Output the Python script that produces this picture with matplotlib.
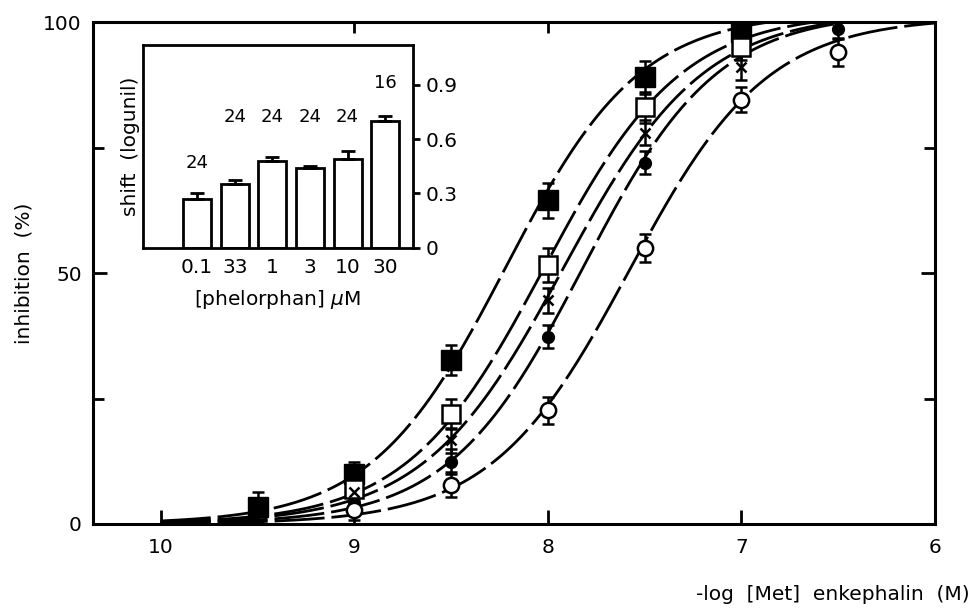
import matplotlib.pyplot as plt
import numpy as np

plt.rcParams['font.family'] = ['DejaVu Sans']

# main panel: inhibition (%) vs -log [Met] enkephalin (M)
sq_fill_x = [9.5, 9.0, 8.5, 8.0, 7.5, 7.0]
sq_fill_y = [3.4, 10.0, 32.7, 64.5, 89.0, 98.0]
sq_fill_err = [3.0, 2.4, 3.0, 3.5, 3.3, 2.5]

sq_open_x = [9.0, 8.5, 8.0, 7.5, 7.0]
sq_open_y = [7.0, 22.0, 51.6, 83.0, 95.0]
sq_open_err = [2.5, 3.0, 3.4, 3.0, 2.5]

cross_x = [9.0, 8.5, 8.0, 7.5, 7.0]
cross_y = [6.4, 16.7, 44.6, 78.0, 91.0]
cross_err = [2.0, 2.5, 2.5, 2.5, 2.5]

dot_x = [9.0, 8.5, 8.0, 7.5, 6.5]
dot_y = [4.0, 12.4, 37.3, 72.0, 98.6]
dot_err = [2.0, 2.5, 2.3, 2.3, 2.0]

circ_x = [9.0, 8.5, 8.0, 7.5, 7.0, 6.5]
circ_y = [2.8, 7.8, 22.7, 55.0, 84.5, 94.0]
circ_err = [2.0, 2.5, 2.7, 2.8, 2.5, 2.8]

# fitted Hill curves: half-max position (-log M), slope and plateau per series
fit_p50 = [8.22, 8.02, 7.92, 7.82, 7.58]
fit_slope = [1.25, 1.22, 1.2, 1.25, 1.22]
fit_top = [102, 102, 102, 102, 101]

# inset: shift per phelorphan concentration
conc_labels = ["0.1", "33", "1", "3", "10", "30"]
shift = [0.27, 0.35, 0.48, 0.44, 0.49, 0.70]
shift_err = [0.035, 0.025, 0.02, 0.012, 0.045, 0.025]
n_labels = ["24", "24", "24", "24", "24", "16"]
n_label_y = [0.47, 0.72, 0.72, 0.72, 0.72, 0.91]

fig = plt.figure(figsize=(9.72, 6.15), dpi=100)
ax = fig.add_axes([0.0957, 0.148, 0.8663, 0.816])

xx = np.linspace(10.0, 6.0, 300)
for p50, n, top_val in zip(fit_p50, fit_slope, fit_top):
    yy = top_val / (1.0 + 10 ** (n * (xx - p50)))
    ax.plot(xx, yy, color='black', lw=2, linestyle=(0, (18, 2.5)), zorder=2)

ebkw = dict(ecolor='black', elinewidth=1.8, capsize=4.5, capthick=1.8, linestyle='none', zorder=3)
ax.errorbar(sq_fill_x, sq_fill_y, yerr=sq_fill_err, marker='s', ms=14,
            mfc='black', mec='black', **ebkw)
ax.errorbar(sq_open_x, sq_open_y, yerr=sq_open_err, marker='s', ms=13.5,
            mfc='white', mec='black', mew=1.8, **ebkw)
ax.errorbar(cross_x, cross_y, yerr=cross_err, marker='x', ms=7,
            mfc='black', mec='black', mew=1.8, **ebkw)
ax.errorbar(dot_x, dot_y, yerr=dot_err, marker='o', ms=8.5,
            mfc='black', mec='black', **ebkw)
ax.errorbar(circ_x, circ_y, yerr=circ_err, marker='o', ms=11,
            mfc='white', mec='black', mew=1.8, **ebkw)

ax.set_xlim(10.35, 6.0)
ax.set_ylim(0, 100)
ax.set_xticks([10, 9, 8, 7, 6])
ax.set_xticklabels(["10", "9", "8", "7", "6"])
ax.set_yticks([0, 50, 100])
ax.set_yticks([25, 75], minor=True)
ax.tick_params(which='both', direction='in', width=2, labelsize=14.5, right=True)
ax.tick_params(which='major', length=10, pad=10)
ax.tick_params(which='minor', length=8)
ax.tick_params(axis='y', pad=8)
for s in ax.spines.values():
    s.set_linewidth(2.2)

top = ax.secondary_xaxis('top')
top.set_xticks([9, 8, 7])
top.set_xticklabels([])
top.tick_params(direction='in', length=8, width=2)

ax.set_ylabel("inhibition  (%)", fontsize=14.5, labelpad=7)
fig.text(0.998, 1 - 595 / 615, "-log  [Met]  enkephalin  (M)", fontsize=14.5,
         ha='right', va='center')

# inset bar chart
ax2 = fig.add_axes([0.147, 0.597, 0.278, 0.33])
pos = np.arange(len(shift))
ax2.bar(pos, shift, width=0.75, color='white', edgecolor='black', linewidth=2,
        yerr=[[0] * len(shift), shift_err], capsize=5,
        error_kw=dict(elinewidth=2, capthick=2, ecolor='black'))
for p, lab, ly in zip(pos, n_labels, n_label_y):
    ax2.text(p, ly, lab, ha='center', va='center', fontsize=13)
ax2.set_xlim(-1.44, 5.74)
ax2.set_ylim(0, 1.12)
ax2.set_xticks(pos)
ax2.set_xticklabels(conc_labels)
ax2.set_yticks([0, 0.3, 0.6, 0.9])
ax2.set_yticklabels(["0", "0.3", "0.6", "0.9"])
ax2.yaxis.tick_right()
ax2.yaxis.set_label_position('left')
ax2.tick_params(axis='x', length=0, labelsize=14.5, pad=7)
ax2.tick_params(axis='y', direction='out', length=5, width=2, labelsize=14.5, pad=4)
for s in ax2.spines.values():
    s.set_linewidth(2)
ax2.set_ylabel("shift  (logunil)", fontsize=14.5, labelpad=2)
ax2.set_xlabel("[phelorphan] $\\mu$M", fontsize=14.5, labelpad=8)

fig.savefig("out.png", dpi=100)
